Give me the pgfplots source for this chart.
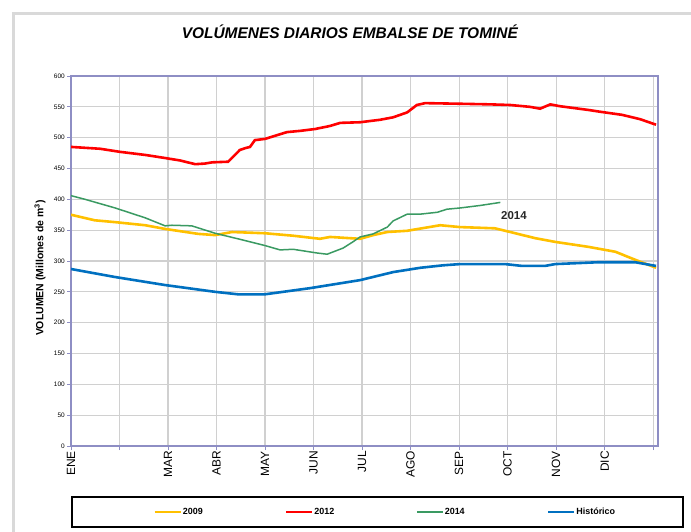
\documentclass[border=0pt]{standalone}
\usepackage{fontspec}
\setmainfont{Liberation Sans}
\usepackage{pgfplots}
\pgfplotsset{compat=1.18}
\definecolor{c09}{HTML}{FFC000}
\definecolor{c12}{HTML}{FF0000}
\definecolor{c14}{HTML}{3A9A62}
\definecolor{chis}{HTML}{0070C0}
\definecolor{axc}{HTML}{8E8EC4}
\definecolor{grd}{HTML}{D0D0D0}
\definecolor{frm}{HTML}{D9D9D9}
\begin{document}
\begin{tikzpicture}
\begin{axis}[name=ax, scale only axis, width=587bp, height=370bp,
 xmin=0, xmax=12.1, ymin=0, ymax=600,
 xtick={0,...,12}, xticklabels={ENE,,MAR,ABR,MAY,JUN,JUL,AGO,SEP,OCT,NOV,DIC,},
 ytick={0,50,...,600},
 grid=major, major grid style={grd, line width=1.2bp},
 axis line style={axc, line width=1.3bp},
 tick style={axc, line width=1bp},
 tick align=outside, major tick length=4bp,
 xtick pos=left, ytick pos=left,
 x tick label style={rotate=90, anchor=east, font=\fontsize{12}{12}\selectfont, inner sep=1bp},
 y tick label style={font=\fontsize{6.5}{7}\selectfont, inner sep=2bp},
 /pgf/number format/assume math mode=true,
 ylabel={VOLUMEN (Millones de m\textsuperscript{3})},
 ylabel style={at={(-0.0528,0.481)}, anchor=center, font=\fontsize{10.5}{12}\selectfont\bfseries},
 title={VOLÚMENES DIARIOS EMBALSE DE TOMINÉ},
 title style={at={(0.475,1.1027)}, anchor=center, font=\fontsize{15.5}{18}\selectfont\bfseries\itshape},
 legend columns=4,
 legend style={at={(0.1397,-0.178)}, anchor=west, draw=none, fill=none, inner sep=0pt,
   font=\fontsize{9}{10}\selectfont\bfseries, nodes={inner sep=1bp},
   /tikz/every even column/.append style={column sep=81bp}},
 legend image code/.code={\draw[#1] (0bp,0bp) -- (26bp,0bp);},
]
\addplot[c09, line width=2.6bp] coordinates {
(0,375) (0.49,366) (0.91,363) (1.53,358) (1.94,352) (2.62,344) (2.97,342) (3.32,347)
(4.0,345) (4.58,341) (5.13,336) (5.34,339) (5.96,336) (6.23,342) (6.52,347) (6.93,349)
(7.61,358) (8.02,355) (8.74,353) (8.95,349) (9.57,337) (9.98,331) (10.66,323) (11.22,315)
(11.63,302) (12.06,289)};
\addlegendentry{2009}
\addplot[c12, line width=2.6bp] coordinates {
(0,485) (0.6,482) (1.01,477) (1.53,472) (1.94,467) (2.25,463) (2.56,457) (2.76,458)
(2.91,460) (3.24,461) (3.38,472) (3.48,480) (3.59,483) (3.69,485) (3.79,496) (4.0,498)
(4.45,509) (4.72,511) (5.03,514) (5.34,519) (5.55,524) (5.96,525) (6.37,529) (6.64,533)
(6.93,541) (7.13,553) (7.3,556) (8.02,555) (8.64,554) (9.05,553) (9.46,550) (9.67,547)
(9.88,554) (10.08,551) (10.66,545) (10.91,542) (11.36,537) (11.73,530) (12.06,521)};
\addlegendentry{2012}
\addplot[c14, line width=1.5bp] coordinates {
(0,406) (0.29,400) (0.91,386) (1.53,370) (1.94,357) (2.08,358) (2.49,357) (2.97,345)
(3.44,336) (4.0,325) (4.31,318) (4.58,319) (5.07,313) (5.28,311) (5.61,321) (5.81,331)
(5.96,339) (6.23,344) (6.52,355) (6.64,365) (6.93,376) (7.2,376) (7.55,379) (7.75,384)
(8.02,386) (8.43,390) (8.85,395)};
\addlegendentry{2014}
\addplot[chis, line width=2.6bp] coordinates {
(0,287) (0.91,274) (1.94,261) (2.97,250) (3.44,246) (4.0,246) (4.93,256) (5.96,269)
(6.64,282) (7.2,289) (7.67,293) (8.02,295) (8.95,295) (9.3,292) (9.77,292) (9.98,295)
(10.87,298) (11.63,298) (12.06,292)};
\addlegendentry{Histórico}
\node[font=\fontsize{11.5}{12}\selectfont\bfseries, text=black!85] at (axis cs:9.13,373) {2014};
\end{axis}
\draw[frm, line width=3bp] ([shift={(-59bp,62bp)}]ax.north west) -- ([shift={(33bp,62bp)}]ax.north east);
\draw[frm, line width=3bp] ([shift={(-57bp,62bp)}]ax.north west) -- ([shift={(-57bp,-86bp)}]ax.south west);
\draw[black, line width=1.2bp] ([shift={(1bp,-51bp)}]ax.south west) rectangle ([shift={(25bp,-81bp)}]ax.south east);
\pgfresetboundingbox
\path ([shift={(-71bp,-86bp)}]ax.south west) rectangle ([shift={(33bp,76bp)}]ax.north east);
\end{tikzpicture}
\end{document}
